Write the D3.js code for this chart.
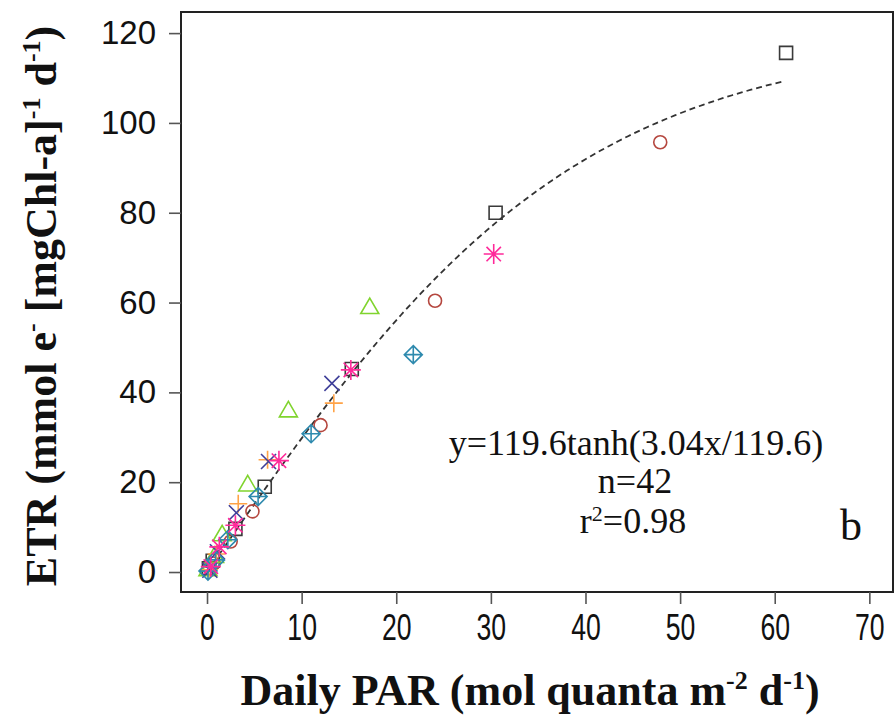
<!DOCTYPE html>
<html>
<head>
<meta charset="utf-8">
<script src="https://cdn.jsdelivr.net/npm/d3@7"></script>
<style>
  body { margin: 0; background: #fff; }
</style>
</head>
<body>
<div id="chart"></div>
<script>
// daily PAR (x) and ETR (y) per station group
var parSquare = [0.2, 0.6, 3.0, 6.1, 15.3, 30.5, 61.2];
var etrSquare = [0.8, 2.5, 9.6, 19.0, 45.2, 80.0, 115.6];
var parCircle = [0.3, 0.7, 2.5, 4.8, 12.0, 24.1, 47.9];
var etrCircle = [0.9, 1.9, 6.8, 13.5, 32.7, 60.4, 95.7];
var parTriangle = [0.1, 0.8, 1.6, 4.3, 8.6, 17.2];
var etrTriangle = [0.6, 3.6, 8.4, 19.5, 36.0, 59.0];
var parPlus = [0.2, 1.0, 3.3, 6.4, 13.4];
var etrPlus = [0.5, 4.0, 15.2, 25.0, 37.6];
var parCross = [0.3, 1.1, 3.1, 6.5, 13.2];
var etrCross = [0.4, 4.5, 13.2, 24.6, 42.0];
var parDiamond = [0.1, 0.9, 2.2, 5.4, 11.0, 21.8];
var etrDiamond = [0.2, 2.7, 7.2, 16.8, 30.8, 48.4];
var parStar = [0.4, 1.3, 3.0, 7.6, 15.2, 30.3];
var etrStar = [1.2, 5.6, 10.4, 24.8, 45.0, 70.8];

var xTicks = [0, 10, 20, 30, 40, 50, 60, 70];
var yTicks = [0, 20, 40, 60, 80, 100, 120];

// fitted model y = Pmax * tanh(alpha * x / Pmax)
var fitPmax = 119.6;
var fitAlpha = 3.04;
var fitXmax = 61.2;

var width = 894, height = 720;
var svg = d3.select('#chart').append('svg')
  .attr('width', width)
  .attr('height', height);

var x = d3.scaleLinear().domain([-2.75, 72.5]).range([181, 893]);
var y = d3.scaleLinear().domain([-4.45, 124.7]).range([592, 12]);

// marker shapes (pixel offsets around the point)
function sq(s) { return 'M' + -s + ',' + -s + 'H' + s + 'V' + s + 'H' + -s + 'Z'; }
function plus(s) { return 'M' + -s + ',0H' + s + 'M0,' + -s + 'V' + s; }
function cross(s) { return 'M' + -s + ',' + -s + 'L' + s + ',' + s + 'M' + -s + ',' + s + 'L' + s + ',' + -s; }
var shapes = {
  square: function () { return sq(6.5); },
  circle: function () { return 'M6.5,0A6.5,6.5 0 1,1 -6.5,0A6.5,6.5 0 1,1 6.5,0Z'; },
  triangle: function () { return 'M0,-9L9,6.5H-9Z'; },
  plus: function () { return plus(9); },
  cross: function () { return cross(7.5); },
  diamond: function () { return 'M0,-9L9,0L0,9L-9,0Z' + plus(9); },
  star: function () { return plus(10) + cross(7.2); }
};

var series = [
  { shape: 'square', color: '#3a3a3a', xs: parSquare, ys: etrSquare },
  { shape: 'circle', color: '#b5473f', xs: parCircle, ys: etrCircle },
  { shape: 'triangle', color: '#80d42e', xs: parTriangle, ys: etrTriangle },
  { shape: 'plus', color: '#ffa347', xs: parPlus, ys: etrPlus },
  { shape: 'cross', color: '#3f3f99', xs: parCross, ys: etrCross },
  { shape: 'diamond', color: '#2e8aae', xs: parDiamond, ys: etrDiamond },
  { shape: 'star', color: '#ff2a9a', xs: parStar, ys: etrStar }
];

// frame
svg.append('rect')
  .attr('x', x.range()[0]).attr('y', y.range()[1])
  .attr('width', x.range()[1] - x.range()[0])
  .attr('height', y.range()[0] - y.range()[1])
  .attr('fill', 'none').attr('stroke', '#222').attr('stroke-width', 2);

// axes
var gx = svg.append('g').attr('transform', 'translate(0,' + y.range()[0] + ')')
  .call(d3.axisBottom(x).tickValues(xTicks).tickSize(12).tickPadding(6));
var gy = svg.append('g').attr('transform', 'translate(' + x.range()[0] + ',0)')
  .call(d3.axisLeft(y).tickValues(yTicks).tickSize(12).tickPadding(13));
[gx, gy].forEach(function (g) {
  g.select('.domain').remove();
  g.selectAll('.tick line').attr('stroke', '#555').attr('stroke-width', 1.6);
  g.selectAll('.tick text').attr('fill', '#111')
    .style('font-family', '"Liberation Sans", Arial, sans-serif')
    .style('font-size', '33px');
});
gx.selectAll('.tick text')
  .attr('dy', null).attr('y', 0)
  .style('font-size', '37px')
  .attr('transform', 'translate(0,48) scale(0.72,1)');

// fitted curve
var fitX = d3.range(0, fitXmax + 0.001, 0.5);
var line = d3.line()
  .x(function (d) { return x(d); })
  .y(function (d) { return y(fitPmax * Math.tanh(fitAlpha * d / fitPmax)); });
svg.append('path').datum(fitX)
  .attr('d', line)
  .attr('fill', 'none').attr('stroke', '#333')
  .attr('stroke-width', 1.8).attr('stroke-dasharray', '6,4');

// points
series.forEach(function (s) {
  svg.append('g').selectAll('path').data(d3.range(s.xs.length)).enter().append('path')
    .attr('transform', function (i) { return 'translate(' + x(s.xs[i]) + ',' + y(s.ys[i]) + ')'; })
    .attr('d', shapes[s.shape])
    .attr('fill', 'none')
    .attr('stroke', s.color)
    .attr('stroke-width', 1.6);
});

// annotation
var note = svg.append('g')
  .style('font-family', '"Liberation Serif", "Times New Roman", serif')
  .style('font-size', '36px').attr('fill', '#111').attr('text-anchor', 'middle');
note.append('text').attr('x', 636).attr('y', 455).text('y=119.6tanh(3.04x/119.6)');
note.append('text').attr('x', 635).attr('y', 493).text('n=42');
var r2 = note.append('text').attr('x', 633).attr('y', 533);
r2.append('tspan').text('r');
r2.append('tspan').attr('dy', -12).style('font-size', '22px').text('2');
r2.append('tspan').attr('dy', 12).text('=0.98');
note.append('text').attr('x', 851).attr('y', 540).style('font-size', '44px').text('b');

// axis titles
var titleFont = '"Liberation Serif", "Times New Roman", serif';
var xt = svg.append('text')
  .attr('x', 530).attr('y', 705).attr('text-anchor', 'middle')
  .style('font-family', titleFont).style('font-weight', 'bold')
  .style('font-size', '44px').attr('fill', '#111');
xt.append('tspan').text('Daily PAR (mol quanta m');
xt.append('tspan').attr('dy', -16).style('font-size', '26px').text('-2');
xt.append('tspan').attr('dy', 16).text(' d');
xt.append('tspan').attr('dy', -16).style('font-size', '26px').text('-1');
xt.append('tspan').attr('dy', 16).text(')');

var yt = svg.append('text')
  .attr('transform', 'translate(56,306) rotate(-90)').attr('text-anchor', 'middle')
  .style('font-family', titleFont).style('font-weight', 'bold')
  .style('font-size', '44px').attr('fill', '#111');
yt.append('tspan').text('ETR (mmol e');
yt.append('tspan').attr('dy', -16).style('font-size', '26px').text('-');
yt.append('tspan').attr('dy', 16).text(' [mgChl-a]');
yt.append('tspan').attr('dy', -16).style('font-size', '26px').text('-1');
yt.append('tspan').attr('dy', 16).text(' d');
yt.append('tspan').attr('dy', -16).style('font-size', '26px').text('-1');
yt.append('tspan').attr('dy', 16).text(')');
</script>
</body>
</html>
